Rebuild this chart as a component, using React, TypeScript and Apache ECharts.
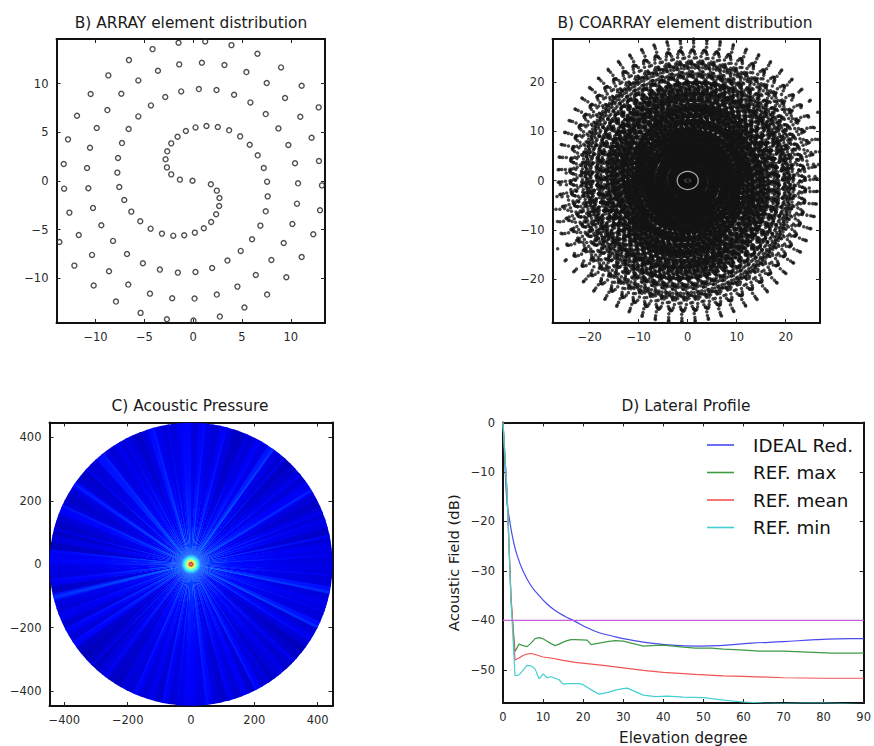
import React, { useEffect, useRef } from "react";
import * as echarts from "echarts";

const arrayElements: number[][] = [
  [12.85,7.57],[11.11,9.79],[9.0,11.68],[6.58,13.08],[3.92,13.97],[1.23,14.35],[-1.5,14.21],[-4.16,13.56],[-6.58,12.43],[-8.69,10.86],
  [-10.5,8.94],[-11.9,6.71],[-12.82,4.28],[-13.26,1.75],[-13.22,-0.79],[-12.68,-3.25],[-11.72,-5.55],[-10.36,-7.6],[-8.62,-9.28],[-6.65,-10.65],
  [-4.43,-11.58],[-2.15,-12.05],[0.14,-12.09],[2.42,-11.68],[4.53,-10.86],[6.41,-9.66],[8.01,-8.12],[9.27,-6.37],[10.16,-4.42],[10.63,-2.33],
  [10.74,-0.24],[10.43,1.82],[9.75,3.7],[8.73,5.41],[7.43,6.88],[5.86,8.08],[4.19,8.87],[2.39,9.35],[0.58,9.45],[-1.23,9.21],
  [-2.86,8.63],[-4.33,7.77],[-5.62,6.64],[-6.61,5.34],[-7.29,3.9],[-7.7,2.36],[-7.77,0.86],[-7.57,-0.62],[-7.06,-1.95],[-6.34,-3.15],
  [-5.42,-4.14],[-4.36,-4.9],[-3.2,-5.41],[-2.04,-5.62],[-0.92,-5.58],[0.17,-5.31],[1.09,-4.86],[1.84,-4.21],[2.35,-3.42],[2.66,-2.57],
  [2.69,-1.75],[2.42,-0.99],[1.81,-0.34],[-0.07,0.03],[-1.36,0.14],[-2.25,0.68],[-2.69,1.4],[-2.83,2.23],[-2.66,3.05],[-2.25,3.87],
  [-1.6,4.55],[-0.75,5.14],[0.24,5.51],[1.36,5.65],[2.52,5.55],[3.68,5.21],[4.81,4.59],[5.79,3.73],[6.61,2.64],[7.23,1.34],
  [7.57,-0.07],[7.63,-1.58],[7.43,-3.12],[6.88,-4.59],[6.03,-5.99],[4.87,-7.19],[3.51,-8.18],[1.94,-8.94],[0.24,-9.35],[-1.57,-9.42],
  [-3.41,-9.11],[-5.15,-8.46],[-6.78,-7.5],[-8.21,-6.16],[-9.41,-4.55],[-10.26,-2.77],[-10.74,-0.75],[-10.87,1.34],[-10.57,3.42],[-9.88,5.45],
  [-8.79,7.29],[-7.36,8.97],[-5.62,10.34],[-3.61,11.34],[-1.43,11.99],[0.89,12.16],[3.2,11.92],[5.45,11.2],[7.53,10.07],[9.41,8.53],
  [10.97,6.61],[12.13,4.45],[12.88,2.05],[13.19,-0.45],[12.99,-3.01],[12.3,-5.48],[11.11,-7.81],[9.54,-9.9],[7.57,-11.68],[5.25,-13.01],
  [2.73,-13.94],[0.03,-14.35],[-2.69,-14.21],[-5.39,-13.56],[-7.91,-12.4],[-10.19,-10.75],[-12.17,-8.7],[-13.7,-6.27],
];

// The co-array is by definition every pairwise difference of the array elements.
const coarrayElements: number[][] = [[0, 0]];
arrayElements.forEach((a, i) =>
  arrayElements.forEach((b, j) => {
    if (i !== j) coarrayElements.push([a[0] - b[0], a[1] - b[1]]);
  })
);
const coarrayCore: number[][] = [[0, 0]];

// Brightness of each 3 degree wedge of panel C, counter-clockwise from east.
const rayLevels: number[] = [
  .35,.4,.45,.3,.2,.4,.3,.35,.2,.3,.55,.5,.3,.35,.25,.15,.25,.4,.75,.4,.5,.3,.2,.15,.35,.5,.3,.4,.55,.35,
  .6,.5,.35,.3,.45,.65,.35,.2,.35,.3,.45,.3,.4,.7,.35,.3,.2,.25,.6,.3,.2,.3,.55,.3,.2,.15,.35,.15,.5,.55,
  .4,.35,.5,.2,.75,.4,.3,.45,.25,.5,.3,.55,.2,.1,.2,.15,.3,.4,.2,.15,.35,.3,.5,.3,.45,.25,.5,.3,.4,.55,
  .5,.4,.6,.35,.2,.45,.3,.5,.25,.55,.3,.15,.3,.4,.25,.35,.2,.1,.3,.45,.3,.7,.35,.3,.45,.35,.7,.35,.3,.4,
];
const rayStep = 3;
// Thin bright streaks of panel C: angle in degrees, strength at the rim.
const streakAngles: number[] = [3,11,18,21,31,39,48,54,60,66,75,84,93,99,105,117,128,137,145,155,165,174,186,193,200,207,213,225,232,246,258,264,276,285,297,303,316,327,333,340,348,355];
const streakStrengths: number[] = [.2,.4,.2,.2,.8,.2,.2,1,.3,.1,.4,.4,.3,.2,.6,.2,.7,.2,.7,.6,.1,.4,.3,1,.2,.4,.4,.1,.2,.4,.4,.2,.5,.2,.5,.1,.2,.3,.9,.2,.9,.2];
const streakWidth = 1.1;
const discRadius = 447;
const spotProfile: number[][] = [[0,1],[6,.92],[10,.64],[15,.5],[20,.37],[32,.2]];

const idealProfile: number[][] = [
  [0,0],[0.5,-9],[1,-16.2],[1.5,-19],[2,-21.5],[2.6,-24],[3.5,-26.8],[5,-30],[7,-33],[9,-35],[11,-36.7],[13,-38],[15.5,-39.2],[18,-40.2],
  [21,-41.5],[24,-42.5],[27,-43.1],[30,-43.7],[35,-44.4],[42,-45],[49,-45.2],[54,-45.1],[62,-44.6],[70,-44.3],[78,-43.9],[87,-43.7],[90,-43.7],
];
const maxProfile: number[][] = [
  [0,0],[1,-14],[2,-36],[3,-46.3],[4,-44.8],[5,-45.1],[6,-45.3],[7,-44.6],[8,-43.7],[9,-43.5],[10,-43.7],[11,-44.2],[12,-44.7],[13,-45.1],
  [14,-44.8],[15,-44.4],[16,-44.1],[17,-43.9],[18,-43.9],[21,-44],[22,-44.9],[24,-44.6],[26,-44.3],[28,-44.1],[30,-44.2],[32,-44.6],[35,-45.2],
  [37,-45.1],[40,-45],[45,-45.4],[48,-45.6],[52,-45.6],[55,-45.8],[60,-46],[64,-46.2],[70,-46.2],[76,-46.4],[82,-46.6],[90,-46.6],
];
const meanProfile: number[][] = [
  [0,0],[1,-14],[2,-35],[3,-48],[4,-47.6],[5,-47.1],[6,-46.8],[7,-46.7],[8,-46.9],[10,-47.4],[12,-47.6],[15,-48.1],[18,-48.5],[25,-49.1],
  [30,-49.6],[35,-50.1],[40,-50.5],[48,-50.9],[55,-51.2],[60,-51.3],[70,-51.6],[80,-51.7],[90,-51.7],
];
const minProfile: number[][] = [
  [0,0],[1,-14],[2,-36],[3,-51.2],[4,-51],[5,-50.1],[6,-49.1],[7,-49.2],[8,-49.8],[9,-51.8],[10,-50.8],[11,-51.6],[12,-51.4],[13,-51.7],[14,-52],
  [15,-52.9],[16,-52.8],[19,-52.8],[20,-53],[21,-53.5],[23,-54.5],[24,-54.9],[26,-54.6],[28,-54.1],[30,-53.8],[31,-53.7],[33,-54.4],[35,-55.1],
  [38,-55.4],[41,-55.3],[45,-55.5],[50,-55.6],[55,-56.1],[60,-56.5],[65,-56.7],[70,-56.8],[75,-56.7],[80,-56.7],[85,-56.8],[90,-57],
];
const thresholdLine: number[][] = [[0,-40],[90,-40]];

const axisTicksAB = [-10,-5,0,5,10];
const axisTicksCoarray = [-20,-10,0,10,20];
const axisTicksPressure = [-400,-200,0,200,400];
const elevationTicks = [0,10,20,30,40,50,60,70,80,90];
const fieldTicks = [-50,-40,-30,-20,-10,0];

const FONT = "DejaVu Sans";

function clamp(v: number) { return Math.max(0, Math.min(1, v)); }
function jet(t: number) {
  const r = clamp(Math.min(4*t-1.5, -4*t+4.5));
  const g = clamp(Math.min(4*t-0.5, -4*t+3.5));
  const b = clamp(Math.min(4*t+0.5, -4*t+2.5));
  return `rgb(${Math.round(r*255)},${Math.round(g*255)},${Math.round(b*255)})`;
}

function axes(kind: "x"|"y", gridIndex: number, min: number, max: number, ticks: number[], extra: any = {}) {
  const fmt = (v: number) => String(Math.round(v)).replace("-", "\u2212");
  const common = { type: "value", gridIndex, min, max, splitLine: { show: false },
    axisLine: { show: true, onZero: false, lineStyle: { color: "#111", width: 2 } } };
  const main = { ...common, position: kind === "x" ? "bottom" : "left",
    axisTick: { show: true, inside: true, length: 4, customValues: ticks, lineStyle: { color: "#222", width: 1 } },
    axisLabel: { show: true, customValues: ticks, formatter: fmt, color: "#2a2a2a", fontFamily: FONT, fontSize: 11.5, margin: 8, hideOverlap: false },
    ...extra };
  const mirror = { ...common, position: kind === "x" ? "top" : "right",
    axisTick: { show: true, inside: true, length: 4, customValues: ticks, lineStyle: { color: "#222", width: 1 } },
    axisLabel: { show: false } };
  return [main, mirror];
}

function App() {
  const ref = useRef<HTMLDivElement>(null);
  useEffect(() => {
    const chart = echarts.init(ref.current!, null, { renderer: "svg" });
    const titleStyle = { fontFamily: FONT, fontSize: 15.4, fontWeight: "normal", color: "#1a1a1a" };
    const mkTitle = (text: string, left: number, top: number) => ({ text, left, top, textAlign: "center", padding: 0, textStyle: titleStyle });
    const lineSeries = (name: string, data: number[][], color: string, smooth = 0) => ({
      name, type: "line", data, xAxisIndex: 6, yAxisIndex: 6, showSymbol: false, symbol: "none", clip: true, silent: true, smooth,
      lineStyle: { color, width: 1.2 }, itemStyle: { color },
    });
    const wedgeData = [
      ...rayLevels.map((level, i) => [i * rayStep, level, rayStep + 0.5, 0]),
      ...streakAngles.map((angle, i) => [angle, streakStrengths[i], streakWidth, 1]),
    ];
    chart.setOption({
      animation: false,
      backgroundColor: "#fff",
      title: [
        mkTitle("B) ARRAY element distribution", 191, 15),
        mkTitle("B) COARRAY element distribution", 685, 15),
        mkTitle("C) Acoustic Pressure", 190, 398),
        mkTitle("D) Lateral Profile", 686, 398),
      ],
      grid: [
        { left: 56.5, top: 39, width: 268.5, height: 284 },
        { left: 552.5, top: 39, width: 267.5, height: 284 },
        { left: 49.5, top: 422.5, width: 283, height: 283.5 },
        { left: 503, top: 422.5, width: 367, height: 283.5 },
      ],
      xAxis: [
        ...axes("x", 0, -14, 13.5, axisTicksAB),
        ...axes("x", 1, -27.6, 27, axisTicksCoarray),
        ...axes("x", 2, -447, 447, axisTicksPressure),
        ...axes("x", 3, 0, 90, elevationTicks, { name: "Elevation degree", nameLocation: "middle", nameGap: 27,
          nameTextStyle: { fontFamily: FONT, fontSize: 15.2, color: "#1a1a1a" } }),
      ],
      yAxis: [
        ...axes("y", 0, -14.6, 14.6, axisTicksAB),
        ...axes("y", 1, -28.9, 28.7, axisTicksCoarray),
        ...axes("y", 2, -447, 447, axisTicksPressure),
        ...axes("y", 3, -56.7, 0, fieldTicks, { name: "Acoustic Field (dB)", nameLocation: "middle", nameGap: 42,
          nameTextStyle: { fontFamily: FONT, fontSize: 14.8, color: "#1a1a1a" } }),
      ],
      legend: {
        left: 707, top: 436, orient: "vertical", itemGap: 9.5, itemWidth: 27, itemHeight: 1.6, icon: "rect",
        data: ["IDEAL Red.", "REF. max", "REF. mean", "REF. min"], selectedMode: false,
        textStyle: { fontFamily: FONT, fontSize: 18.3, color: "#111", padding: [0,0,0,14] },
        padding: 0,
      },
      series: [
        { type: "scatter", data: arrayElements, xAxisIndex: 0, yAxisIndex: 0, symbol: "circle", symbolSize: 5, clip: true, silent: true,
          itemStyle: { color: "rgba(255,255,255,0)", borderColor: "#222", borderWidth: 1.4 } },
        { type: "scatter", data: coarrayElements, xAxisIndex: 2, yAxisIndex: 2, symbol: "circle", symbolSize: 3.5, clip: true, silent: true,
          progressive: 0, large: false,
          itemStyle: { color: "#141414", borderWidth: 0 } },
        { type: "scatter", data: coarrayCore, xAxisIndex: 2, yAxisIndex: 2, symbol: "circle", symbolSize: [21, 18], silent: true, z: 3,
          itemStyle: { color: "#0c0c0c", borderColor: "#cfcfcf", borderWidth: 1.2 } },
        { type: "custom", xAxisIndex: 4, yAxisIndex: 4, silent: true, clip: true, progressive: 0,
          data: wedgeData,
          renderItem: (_p: any, api: any) => {
            const a = api.value(0) * Math.PI / 180;
            const level = api.value(1);
            const width = api.value(2) * Math.PI / 180;
            const isStreak = api.value(3) === 1;
            const c = api.coord([0, 0]);
            const R = api.size([discRadius, 0])[0];
            const rim = isStreak ? 0.095 + level * 0.08 : 0.09 + (level - 0.35) * 0.13;
            const lift = isStreak ? 0.12 : 0.07;
            const spot = isStreak ? [] : spotProfile.map(([r, t]) => ({ offset: r / discRadius, color: jet(t) }));
            const stops = [
              ...spot,
              { offset: 70 / discRadius, color: jet(rim + lift) },
              { offset: 140 / discRadius, color: jet(rim + lift * 0.55) },
              { offset: 280 / discRadius, color: jet(rim + lift * 0.18) },
              { offset: 1, color: jet(rim) },
            ];
            return {
              type: "sector",
              shape: { cx: c[0], cy: c[1], r0: isStreak ? 30 * R / discRadius : 0, r: R, startAngle: -a - width, endAngle: -a, clockwise: true },
              style: { fill: new echarts.graphic.RadialGradient(c[0], c[1], R, stops, true), stroke: "none", opacity: isStreak ? 0.8 : 1 },
            };
          },
        },
        lineSeries("IDEAL Red.", idealProfile, "#4a4aee", 0.4),
        lineSeries("REF. max", maxProfile, "#3f9a44"),
        lineSeries("REF. mean", meanProfile, "#f25555"),
        lineSeries("REF. min", minProfile, "#45cfd0"),
        { ...lineSeries("threshold", thresholdLine, "#c45fdc") },
      ],
    });
    return () => chart.dispose();
  }, []);
  return <div ref={ref} style={{ position: "fixed", left: 0, top: 0, width: 874, height: 746 }} />;
}

export default App;
